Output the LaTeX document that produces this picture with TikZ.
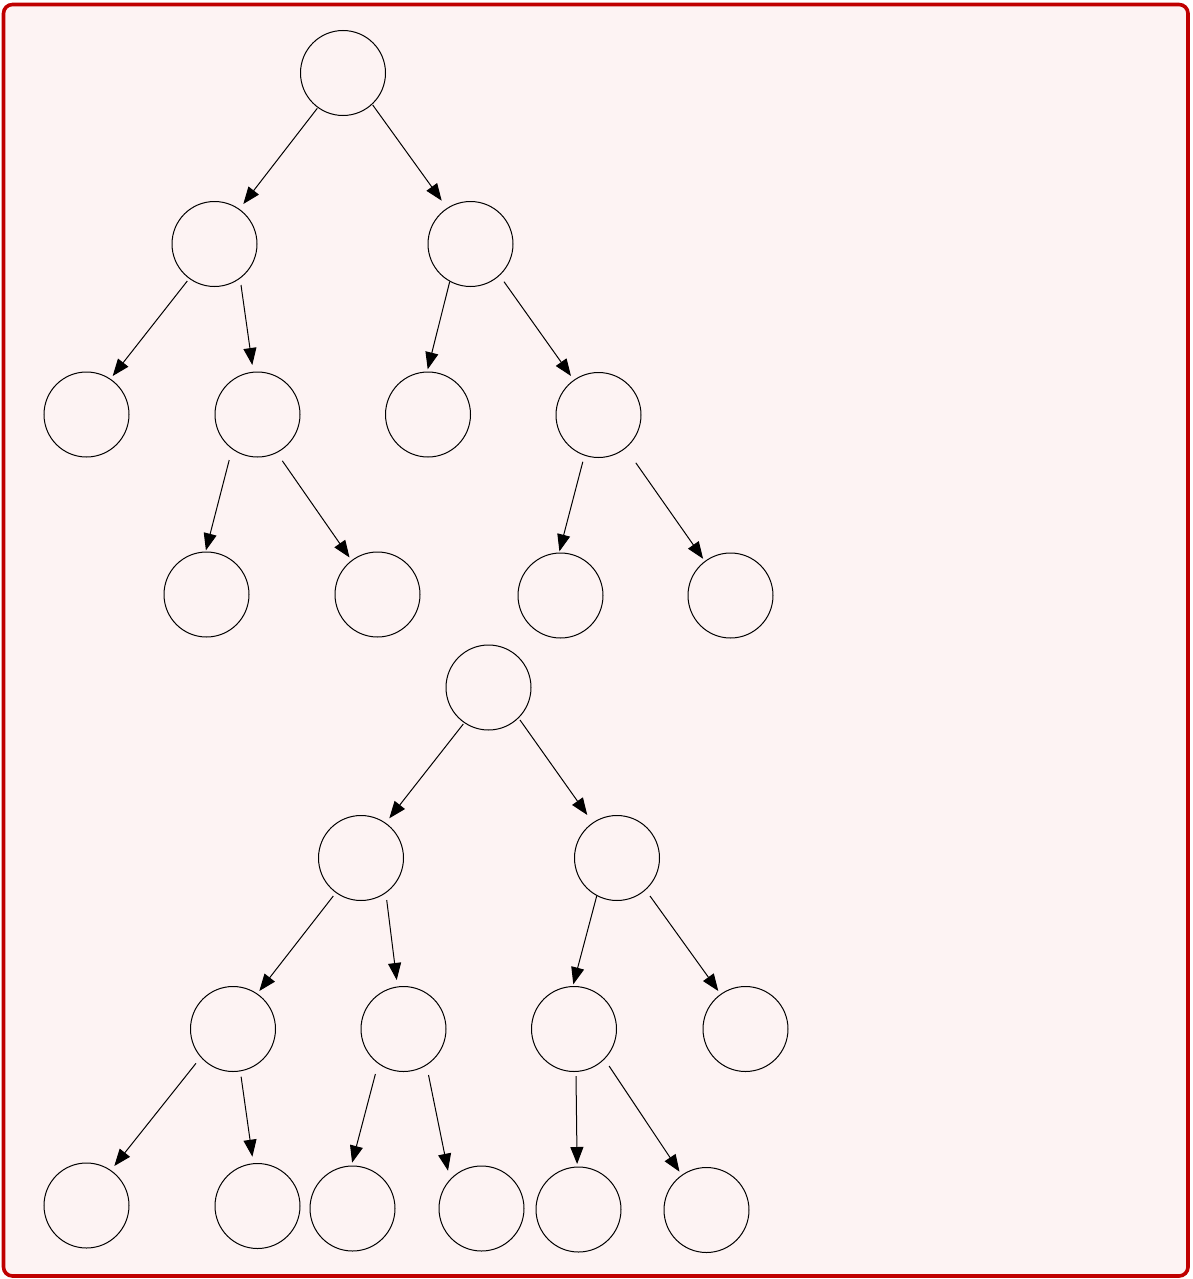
\documentclass[tikz,border=0pt]{standalone}
\usetikzlibrary{arrows.meta,calc}
\definecolor{framered}{RGB}{192,0,0}
\definecolor{framefill}{RGB}{253,243,243}
\tikzset{
  tnode/.style={circle,draw=black,line width=1pt,minimum size=85pt,inner sep=0pt},
  edge/.style={draw=black,line width=1pt,-{Triangle[length=17pt,width=13pt]}},
}
\begin{document}
\begin{tikzpicture}[x=1pt,y=-1pt]
\useasboundingbox (0,0) rectangle (1192,1279);
\draw[framered,fill=framefill,line width=3.6pt,rounded corners=9pt] (3.5,4.5) rectangle (1188,1276);
% top tree
\node[tnode] (a) at (343,73) {};
\node[tnode] (b) at (214.5,244) {};
\node[tnode] (c) at (470.5,244) {};
\node[tnode] (d) at (86.5,414.5) {};
\node[tnode] (e) at (257.5,414.5) {};
\node[tnode] (f) at (428,414.5) {};
\node[tnode] (g) at (598.5,415) {};
\node[tnode] (h) at (206.5,594.5) {};
\node[tnode] (i) at (377.5,594.5) {};
\node[tnode] (j) at (560.5,595.5) {};
\node[tnode] (k) at (730.5,595.5) {};
% bottom tree
\node[tnode] (r) at (488.5,687.5) {};
\node[tnode] (s) at (361,858) {};
\node[tnode] (t) at (617,858) {};
\node[tnode] (u) at (233,1029) {};
\node[tnode] (v) at (403.5,1029) {};
\node[tnode] (w) at (574,1029) {};
\node[tnode] (x) at (745.5,1029) {};
\node[tnode] (u1) at (86.5,1205.5) {};
\node[tnode] (u2) at (257.5,1206) {};
\node[tnode] (v1) at (352.5,1208.5) {};
\node[tnode] (v2) at (481.5,1208.5) {};
\node[tnode] (w1) at (578.5,1209.5) {};
\node[tnode] (w2) at (706.5,1210) {};
% edges top
\draw[edge] ($(a)+(-25.7,35.3)$) -- ($(b)+(28.8,-40)$);
\draw[edge] ($(a)+(29.7,32)$) -- ($(c)+(-28.8,-43.3)$);
\draw[edge] ($(b)+(-27.2,37)$) -- ($(d)+(26.2,-38.5)$);
\draw[edge] ($(b)+(26.5,41)$) -- ($(e)+(-5.2,-49.5)$);
\draw[edge] ($(c)+(-20.8,37.7)$) -- ($(f)+(-0.3,-45.2)$);
\draw[edge] ($(c)+(33.5,37.7)$) -- ($(g)+(-27.5,-39)$);
\draw[edge] ($(e)+(-28.3,45.6)$) -- ($(h)+(-0.6,-44.1)$);
\draw[edge] ($(e)+(24.8,46.3)$) -- ($(i)+(-28,-37)$);
\draw[edge] ($(g)+(-15.7,46.8)$) -- ($(j)+(-1.1,-44.1)$);
\draw[edge] ($(g)+(37.3,47.8)$) -- ($(k)+(-27.4,-36.7)$);
% edges bottom
\draw[edge] ($(r)+(-25.2,36.5)$) -- ($(s)+(28.3,-39.7)$);
\draw[edge] ($(r)+(31.5,32.5)$) -- ($(t)+(-29.7,-43)$);
\draw[edge] ($(s)+(-27.7,38)$) -- ($(u)+(26.3,-38)$);
\draw[edge] ($(s)+(25.7,42)$) -- ($(v)+(-6.8,-49)$);
\draw[edge] ($(t)+(-20.3,38)$) -- ($(w)+(-0.7,-44.7)$);
\draw[edge] ($(t)+(33,38)$) -- ($(x)+(-27.2,-38)$);
\draw[edge] ($(u)+(-37,34.3)$) -- ($(u1)+(27.8,-39.5)$);
\draw[edge] ($(u)+(8.1,47.7)$) -- ($(u2)+(-5.1,-49.3)$);
\draw[edge] ($(v)+(-28.1,45)$) -- ($(v1)+(-0.4,-45.8)$);
\draw[edge] ($(v)+(25,46)$) -- ($(v2)+(-33.5,-37.8)$);
\draw[edge] ($(w)+(2,47)$) -- ($(w1)+(-1.4,-45.5)$);
\draw[edge] ($(w)+(35.1,37)$) -- ($(w2)+(-27,-38.3)$);
\end{tikzpicture}
\end{document}
